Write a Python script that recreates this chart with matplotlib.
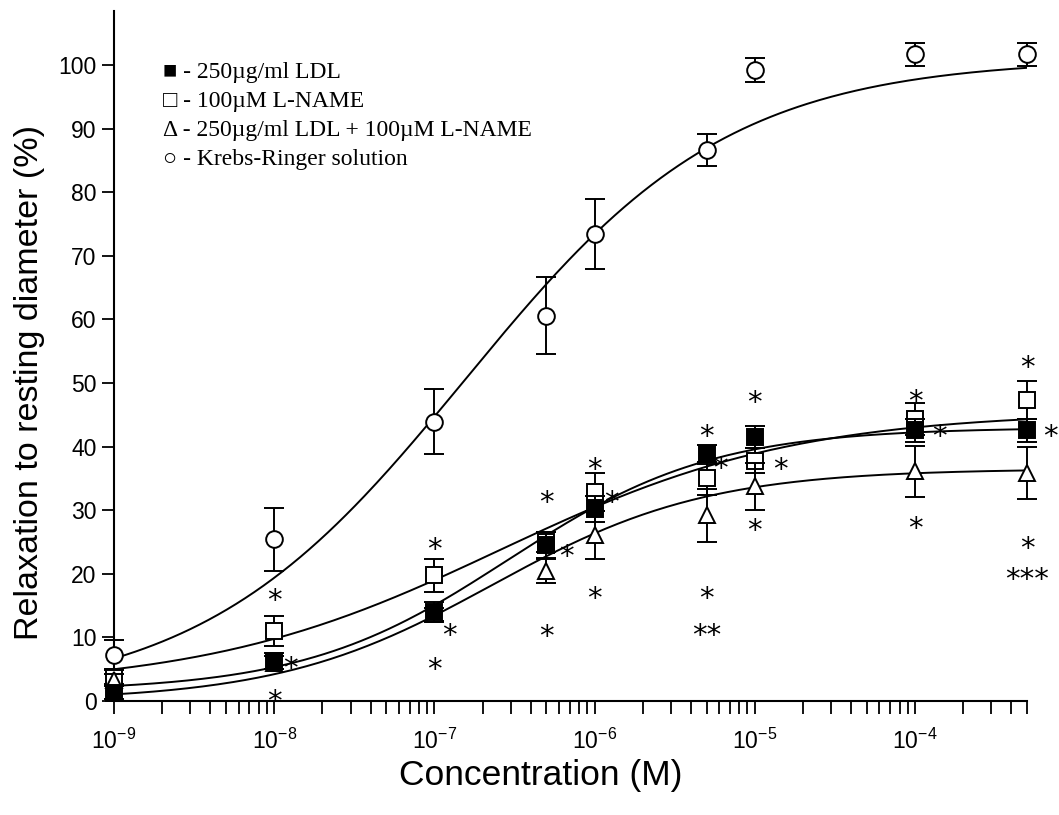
import numpy as np
import matplotlib
matplotlib.use('Agg')
import matplotlib.pyplot as plt
from matplotlib.ticker import FixedLocator, LogLocator, NullFormatter

plt.rcParams['font.family'] = ['Liberation Sans', 'DejaVu Sans']
plt.rcParams['mathtext.default'] = 'regular'

# Agonist concentrations (M)
conc = np.array([1e-9, 1e-8, 1e-7, 5e-7, 1e-6, 5e-6, 1e-5, 1e-4, 5e-4])

# Mean relaxation (%) and error for each group
krebs = [7.2, 25.4, 43.9, 60.6, 73.4, 86.7, 99.2, 101.7, 101.7]
krebs_err = [2.4, 4.9, 5.1, 6.0, 5.5, 2.5, 1.9, 1.8, 1.8]
ldl = [1.3, 6.3, 14.0, 24.5, 30.2, 38.8, 41.5, 42.6, 42.6]
ldl_err = [1.0, 1.2, 1.6, 2.0, 2.0, 1.5, 1.7, 1.8, 1.8]
lname = [3.8, 11.0, 19.8, 25.0, 32.9, 35.0, 37.8, 44.4, 47.3]
lname_err = [1.2, 2.4, 2.6, 1.5, 3.0, 2.6, 2.0, 2.5, 3.0]
ldl_lname = [3.3, 6.0, 13.6, 20.5, 26.1, 29.2, 33.8, 36.1, 35.9]
ldl_lname_err = [1.0, 1.0, 1.0, 1.9, 3.7, 4.2, 3.7, 4.0, 4.1]

# Sigmoid fit parameters: bottom, top, EC50 (M), Hill slope
fit_krebs = (0.0, 101.0, 1.55e-7, 0.525)
fit_ldl = (1.5, 43.0, 2.9e-7, 0.68)
fit_lname = (2.0, 45.5, 2.57e-7, 0.47)
fit_ldl_lname = (0.0, 36.5, 2.3e-7, 0.65)

# Significance marks (x in M, y in %)
star_x = [1e-8, 1.26e-8, 1e-8, 1e-7, 1.24e-7, 1e-7, 5e-7, 6.63e-7, 5e-7,
          1e-6, 1.27e-6, 1e-6, 5e-6, 6.12e-6, 5e-6, 5e-6, 1e-5, 1.44e-5, 1e-5,
          1e-4, 1.43e-4, 1e-4, 5e-4, 6.97e-4, 5e-4, 5e-4]
star_y = [17.3, 6.6, 1.3, 25.3, 11.8, 6.4, 32.7, 24.2, 11.6,
          37.9, 32.7, 17.6, 43.1, 38.0, 17.6, 11.8, 48.4, 37.9, 28.2,
          48.6, 43.1, 28.5, 53.9, 43.1, 25.4, 20.6]
star_text = ['*'] * 15 + ['**'] + ['*'] * 9 + ['***']

x_ticks = [1e-9, 1e-8, 1e-7, 1e-6, 1e-5, 1e-4]
x_tick_labels = ['$10^{-9}$', '$10^{-8}$', '$10^{-7}$', '$10^{-6}$',
                 '$10^{-5}$', '$10^{-4}$']

legend_lines = ['\u25a0 - 250\u00b5g/ml LDL',
                '\u25a1 - 100\u00b5M L-NAME',
                '\u0394 - 250\u00b5g/ml LDL + 100\u00b5M L-NAME',
                '\u25cb - Krebs-Ringer solution']


def hill(x, bottom, top, ec50, slope):
    return bottom + (top - bottom) / (1.0 + (ec50 / x) ** slope)


fig = plt.figure(figsize=(10.59, 8.15), dpi=100)
ax = fig.add_axes([0.1076, 0.1399, 0.8622, 0.8466])

xs = np.logspace(-9, np.log10(5e-4), 300)
for p in (fit_krebs, fit_lname, fit_ldl, fit_ldl_lname):
    ax.plot(xs, hill(xs, *p), color='black', lw=1.4, zorder=2)

eb = dict(color='black', ecolor='black', elinewidth=1.4, capsize=7,
          capthick=1.4, mew=1.4, mec='black', ls='none', clip_on=False)
ax.errorbar(conc, lname, yerr=lname_err, fmt='s', ms=11, mfc='white', zorder=3, **eb)
ax.errorbar(conc, ldl_lname, yerr=ldl_lname_err, fmt='^', ms=12, mfc='white', zorder=4, **eb)
ax.errorbar(conc, ldl, yerr=ldl_err, fmt='s', ms=11, mfc='black', zorder=5, **eb)
ax.errorbar(conc, krebs, yerr=krebs_err, fmt='o', ms=12, mfc='white', zorder=6, **eb)

for x, y, s in zip(star_x, star_y, star_text):
    ax.annotate(s, (x, y), xytext=(0, -7), textcoords='offset points',
                ha='center', va='center', fontsize=21, annotation_clip=False,
                family='DejaVu Sans')

ax.set_xscale('log')
ax.set_xlim(1e-9, 5e-4)
ax.set_ylim(0, 108.5)
ax.set_yticks(np.arange(0, 101, 10))
ax.xaxis.set_major_locator(FixedLocator(x_ticks))
ax.set_xticklabels(x_tick_labels)
ax.xaxis.set_minor_locator(LogLocator(base=10, subs=np.arange(2, 10), numticks=20))
ax.xaxis.set_minor_formatter(NullFormatter())
ax.tick_params(which='both', direction='out', length=9, width=1.3, labelsize=16.5)
ax.tick_params(axis='x', which='major', pad=11)

for side in ('top', 'right'):
    ax.spines[side].set_visible(False)
for side in ('left', 'bottom'):
    ax.spines[side].set_linewidth(1.5)

ax.set_xlabel('Concentration (M)', fontsize=25.5)
ax.xaxis.set_label_coords(0.467, -0.084)
ax.set_ylabel('Relaxation to resting diameter (%)', fontsize=24.5)
ax.yaxis.set_label_coords(-0.075, 0.462)

for i, line in enumerate(legend_lines):
    fig.text(0.154, 0.9105 - i * 0.0355, line, fontsize=17, va='center',
             family=['Liberation Serif', 'DejaVu Serif', 'DejaVu Sans'])

fig.savefig('out.png', dpi=100)
